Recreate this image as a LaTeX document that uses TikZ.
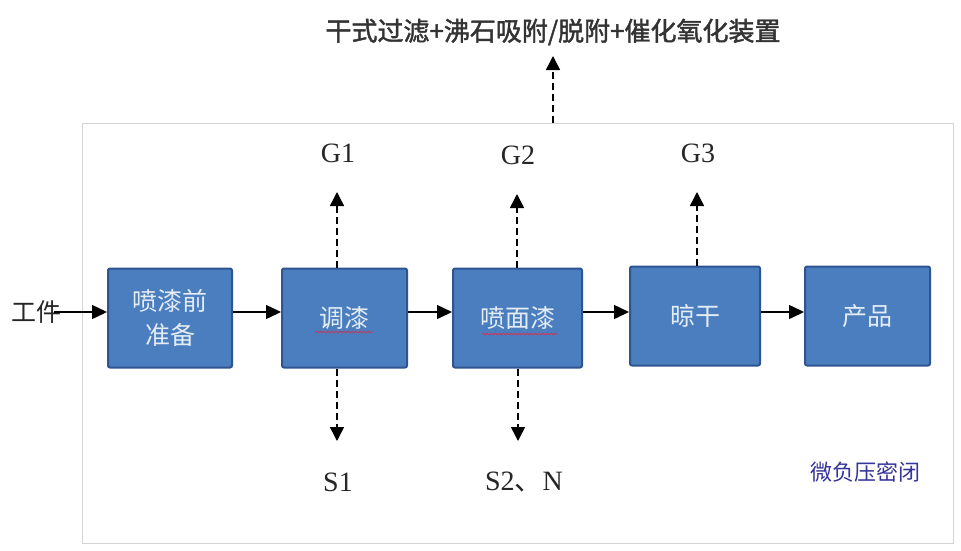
\documentclass[tikz,border=0pt]{standalone}
\usepackage{fontspec}
\setmainfont{Liberation Serif}
\newfontfamily\cjk{Noto Sans CJK SC}
\newfontfamily\cjkb[FakeBold=1.6]{Noto Sans CJK SC}
\usetikzlibrary{arrows.meta,decorations.pathmorphing,calc}
\definecolor{boxfill}{HTML}{4A7EBF}
\definecolor{boxline}{HTML}{2F5590}
\definecolor{boxtext}{HTML}{E4ECF6}
\definecolor{navy}{HTML}{34349A}
\definecolor{frame}{HTML}{D4D4D4}
\definecolor{wavy}{HTML}{C8385A}
\begin{document}
\begin{tikzpicture}[x=1pt,y=-1pt,
  procbox/.style={draw=boxline,line width=2pt,fill=boxfill,rounded corners=2pt,
    minimum height=99pt,text=boxtext,font=\cjk\fontsize{25}{34}\selectfont,align=center,inner sep=0pt},
  flow/.style={line width=1.5pt,-{Triangle[length=15pt,width=14pt]}},
  emit/.style={line width=1.5pt,dash pattern=on 7pt off 4pt,-{Triangle[length=14pt,width=14pt]}},
  glabel/.style={font=\fontsize{28}{30}\selectfont,text=black!85,inner sep=0pt},
  spell/.style={draw=wavy,line width=0.8pt,decorate,decoration={snake,amplitude=0.9pt,segment length=4pt}}]
\useasboundingbox (0,0) rectangle (961,550);
\fill[white] (0,0) rectangle (961,550);
% outer frame
\draw[frame,line width=1pt] (82,123) rectangle (953,543);
% top text
\node[font=\cjkb\fontsize{26}{28}\selectfont,text=black!80,inner sep=0pt] (top) at (553,32) {干式过滤+沸石吸附/脱附+催化氧化装置};
\coordinate (ttip) at (553,56);
\coordinate (tbase) at (553,123);
\draw[emit] (tbase) -- (ttip);
% process boxes
\node[procbox,minimum width=124pt] (b1) at (170,318) {喷漆前\\准备};
\node[procbox,minimum width=125pt] (b2) at (344.5,318) {调漆};
\node[procbox,minimum width=129pt] (b3) at (517.5,318) {喷面漆};
\node[procbox,minimum width=130pt] (b4) at (695,316) {晾干};
\node[procbox,minimum width=125pt] (b5) at (867.5,316) {产品};
% input
\node[font=\cjk\fontsize{25}{27}\selectfont,text=black!85,inner sep=0pt,anchor=east] (in) at (62,312) {工件};
\draw[flow] ($(in.east)+(-8,0)$) -- (b1.west |- in.east);
\draw[flow] (b1.east |- in.east) -- (b2.west |- in.east);
\draw[flow] (b2.east |- in.east) -- (b3.west |- in.east);
\draw[flow] (b3.east |- in.east) -- (b4.west |- in.east);
\draw[flow] (b4.east |- in.east) -- (b5.west |- in.east);
% spell-check underlines
\draw[spell] (315,332) -- (373,332);
\draw[spell] (482,334) -- (557,334);
% emissions
\node[glabel] (g1) at (338,153) {G1};
\node[glabel] (g2) at (518,155) {G2};
\node[glabel] (g3) at (698,153) {G3};
\coordinate (gt1) at (337,192);
\coordinate (gt2) at (517,194);
\coordinate (gt3) at (697,192);
\draw[emit] (gt1 |- b2.north) -- (gt1);
\draw[emit] (gt2 |- b3.north) -- (gt2);
\draw[emit] (gt3 |- b4.north) -- (gt3);
\node[glabel] (s1) at (338,482) {S1};
\node[glabel] (s2) at (524,482) {S2{\cjk 、}N};
\coordinate (st1) at (337,441);
\coordinate (st2) at (518,441);
\draw[emit] (st1 |- b2.south) -- (st1);
\draw[emit] (st2 |- b3.south) -- (st2);
% note
\node[font=\cjk\fontsize{22}{24}\selectfont,text=navy,inner sep=0pt] (note) at (865,472) {微负压密闭};
\end{tikzpicture}
\end{document}
